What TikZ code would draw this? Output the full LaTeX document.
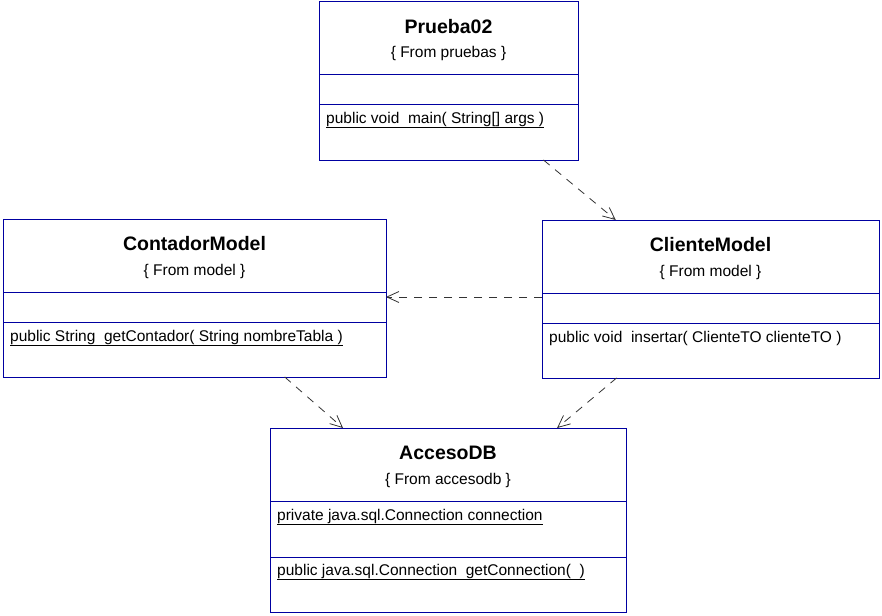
\documentclass[tikz,border=0pt]{standalone}
\usepackage{fontspec}
\setmainfont{Liberation Sans}
\usepackage{tikz}
\usetikzlibrary{arrows.meta,positioning}
\definecolor{roseblue}{rgb}{0,0,0.63}
\definecolor{depgray}{rgb}{0.2,0.2,0.2}
\newcommand{\titlefont}{\fontsize{19.5}{23}\selectfont\bfseries}
\newcommand{\bodyfont}{\fontsize{15.5}{18}\selectfont}

\begin{document}
\begin{tikzpicture}[x=1pt,y=-1pt]
\tikzstyle{cls}=[rectangle, draw=roseblue, line width=1pt, inner sep=0pt, outer sep=0pt, anchor=north west, fill=white]
\tikzstyle{title}=[anchor=base, inner sep=0pt, font=\titlefont]
\tikzstyle{pkg}=[anchor=base, inner sep=0pt, font=\bodyfont]
\tikzstyle{member}=[anchor=base west, inner sep=0pt, font=\bodyfont]
\tikzstyle{sepline}=[draw=roseblue, line width=1pt]
\tikzstyle{dep}=[-{Straight Barb[length=12pt,width=11pt]}, draw=depgray, line width=0.8pt, dash pattern=on 8pt off 7pt]

\useasboundingbox (0,0) rectangle (882,615);

% classes
\node[cls, minimum width=259pt, minimum height=158pt] (prueba) at (319,2) {};
\node[cls, minimum width=383pt, minimum height=158pt] (contador) at (3,219) {};
\node[cls, minimum width=337pt, minimum height=158pt] (cliente) at (542,220) {};
\node[cls, minimum width=356pt, minimum height=184pt] (acceso) at (270,428) {};

% compartments
\draw[sepline] (prueba.west |- 0,75) -- (prueba.east |- 0,75);
\draw[sepline] (prueba.west |- 0,105) -- (prueba.east |- 0,105);
\draw[sepline] (contador.west |- 0,292) -- (contador.east |- 0,292);
\draw[sepline] (contador.west |- 0,322) -- (contador.east |- 0,322);
\draw[sepline] (cliente.west |- 0,293) -- (cliente.east |- 0,293);
\draw[sepline] (cliente.west |- 0,323) -- (cliente.east |- 0,323);
\draw[sepline] (acceso.west |- 0,501) -- (acceso.east |- 0,501);
\draw[sepline] (acceso.west |- 0,557) -- (acceso.east |- 0,557);

% texts
\node[title] (pruebaname) at (448.5,33.5) {Prueba02};
\node[pkg] (pruebapkg) at (448.5,58) {\{ From pruebas \}};
\node[member] (pruebaop) at (326,123) {\underline{public void\ \ main( String[] args )}};

\node[title] (contadorname) at (194.5,250.5) {ContadorModel};
\node[pkg] (contadorpkg) at (194.5,275) {\{ From model \}};
\node[member] (contadorop) at (10,341) {\underline{public String\ \ getContador( String nombreTabla )}};

\node[title] (clientename) at (710.5,251.5) {ClienteModel};
\node[pkg] (clientepkg) at (710.5,276) {\{ From model \}};
\node[member] (clienteop) at (549,342) {public void\ \ insertar( ClienteTO clienteTO )};

\node[title] (accesoname) at (448,459.5) {AccesoDB};
\node[pkg] (accesopkg) at (448,484) {\{ From accesodb \}};
\node[member] (accesoattr) at (277,520) {\underline{private java.sql.Connection connection}};
\node[member] (accesoop) at (277,575) {\underline{public java.sql.Connection\ \ getConnection(\ \ )}};

% dependencies
\path
	(prueba) edge[dep] (cliente)
	([yshift=2pt]cliente.west) edge[dep] ([yshift=1pt]contador.east)
	(contador) edge[dep] (acceso)
	(cliente) edge[dep] (acceso);

\end{tikzpicture}
\end{document}
